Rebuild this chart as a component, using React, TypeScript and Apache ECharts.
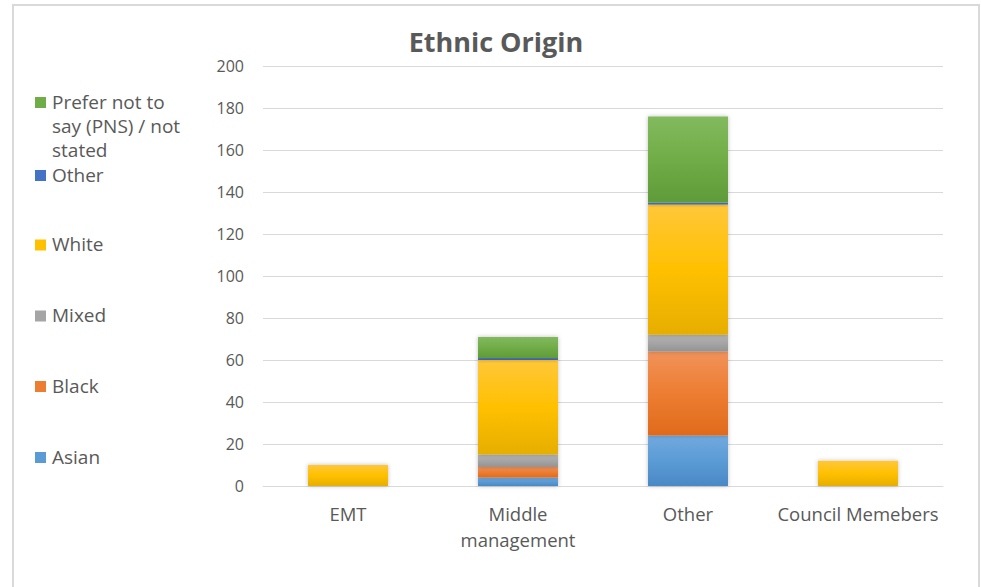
import React, { useEffect, useRef } from "react";
import * as echarts from "echarts";

const categories = ["EMT", "Middle\nmanagement", "Other", "Council Memebers"];
const seriesNames = ["Asian", "Black", "Mixed", "White", "Other", "Prefer not to say (PNS) / not stated"];
const asian = [0, 4, 24, 0];
const black = [0, 5, 40, 0];
const mixed = [0, 6, 8, 0];
const white = [10, 45, 62, 12];
const other = [0, 1, 1, 0];
const pns = [0, 10, 41, 0];
const legendLabels = ["Prefer not to\nsay (PNS) / not\nstated", "Other", "White", "Mixed", "Black", "Asian"];

const baseColors = ["#5B9BD5", "#ED7D31", "#A5A5A5", "#FFC000", "#4472C4", "#70AD47"];
const lightColors = ["#71A9DF", "#F1925A", "#B4B4B4", "#FFC73A", "#5A84CE", "#82BA5E"];
const darkColors = ["#4A88C6", "#E06A1C", "#939393", "#E6AE00", "#3A64B0", "#5F9B38"];

const FONT = "'Open Sans', 'Noto Sans', sans-serif";
const TEXT = "#595959";

export default function App() {
  const ref = useRef<HTMLDivElement>(null);
  useEffect(() => {
    document.body.style.margin = "0";
    const chart = echarts.init(ref.current!, null, { renderer: "svg" });
    const values = [asian, black, mixed, white, other, pns];
    const legendTops = [102.5, 175.5, 245, 316, 386.5, 457.5];
    const legendColorIdx = [5, 4, 3, 2, 1, 0];
    const graphics: any[] = [
      {
        type: "rect",
        shape: { x: 13, y: 5, width: 966, height: 600 },
        style: { fill: "none", stroke: "#D9D9D9", lineWidth: 2 },
        silent: true,
      },
    ];
    legendLabels.forEach((lab, i) => {
      const cy = legendTops[i];
      const lh = i === 0 ? 24 : 18;
      graphics.push({
        type: "rect",
        shape: { x: 35, y: cy - 5.5, width: 11, height: 11 },
        style: { fill: baseColors[legendColorIdx[i]] },
      });
      graphics.push({
        type: "text",
        x: 52,
        y: cy - lh / 2 - 1,
        style: {
          text: lab,
          fontSize: 19,
          lineHeight: lh,
          fontFamily: FONT,
          fill: TEXT,
          verticalAlign: "top",
        },
      });
    });
    chart.setOption({
      animation: false,
      backgroundColor: "#ffffff",
      title: {
        text: "Ethnic Origin",
        left: 491,
        textAlign: "center",
        top: 23,
        textStyle: { fontSize: 27, fontWeight: "bold", color: TEXT, fontFamily: FONT },
      },
      grid: { left: 263, right: 38, top: 66, bottom: 101 },
      xAxis: {
        type: "category",
        data: categories,
        axisLine: { lineStyle: { color: "#D9D9D9", width: 1 } },
        axisTick: { show: false },
        axisLabel: { color: TEXT, fontSize: 18.5, fontFamily: FONT, margin: 14, lineHeight: 26, interval: 0 },
      },
      yAxis: {
        type: "value",
        min: 0,
        max: 200,
        interval: 20,
        axisLine: { show: false },
        axisTick: { show: false },
        splitLine: { lineStyle: { color: "#D9D9D9", width: 1 } },
        axisLabel: { color: TEXT, fontSize: 16, fontFamily: FONT, margin: 19 },
      },
      graphic: graphics,
      series: seriesNames.map((name, i) => ({
        name,
        type: "bar",
        stack: "total",
        barWidth: 80,
        data: values[i],
        itemStyle: {
          color: new echarts.graphic.LinearGradient(0, 0, 0, 1, [
            { offset: 0, color: lightColors[i] },
            { offset: 0.5, color: baseColors[i] },
            { offset: 1, color: darkColors[i] },
          ]),
          shadowBlur: 4,
          shadowColor: "rgba(0,0,0,0.25)",
        },
      })),
    });
    return () => chart.dispose();
  }, []);
  return <div ref={ref} style={{ width: 981, height: 587 }} />;
}
